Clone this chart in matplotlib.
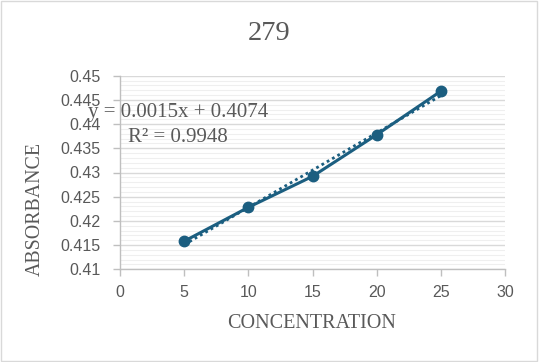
import matplotlib
matplotlib.use("Agg")
import matplotlib.pyplot as plt
import numpy as np
from matplotlib.patches import Rectangle
from matplotlib.ticker import MultipleLocator

concentration = [5, 10, 15, 20, 25]
absorbance = [0.4158, 0.4228, 0.4292, 0.4378, 0.4468]
title = "279"
x_label = "CONCENTRATION"
y_label = "ABSORBANCE"
eq_text = "y = 0.0015x + 0.4074"
r2_text = "R² = 0.9948"

color = "#1b5e80"
W, H = 539, 362
fig = plt.figure(figsize=(W / 100, H / 100), dpi=100)
fig.patches.append(Rectangle((0.002, 0.003), 0.995, 0.993, transform=fig.transFigure,
                             fill=False, edgecolor="#d9d9d9", linewidth=1.0))
ax = fig.add_axes([120 / W, 1 - 269.3 / H, 385 / W, 193.6 / H])

# fit trendline
x = np.array(concentration)
y = np.array(absorbance)
m, b = np.polyfit(x, y, 1)
xs = np.array([x.min(), x.max()])
ax.plot(xs, m * xs + b, linestyle=(0, (1, 1.2)), color=color, linewidth=2.0, zorder=3)
ax.plot(concentration, absorbance, color=color, linewidth=2.2, marker="o",
        markersize=7.5, zorder=4)

ax.set_xlim(0, 30)
ax.set_ylim(0.41, 0.45)
ax.xaxis.set_major_locator(MultipleLocator(5))
ax.yaxis.set_major_locator(MultipleLocator(0.005))
ax.yaxis.set_minor_locator(MultipleLocator(0.001))
ax.set_yticks(np.round(np.arange(0.41, 0.4501, 0.005), 3))
ax.set_yticklabels([f"{v:g}" for v in ax.get_yticks()])
ax.grid(axis="y", which="major", color="#d9d9d9", linewidth=1.0)
ax.grid(axis="y", which="minor", color="#efefef", linewidth=0.8)
ax.set_axisbelow(True)
for s in ["top", "right"]:
    ax.spines[s].set_visible(False)
for s in ["left", "bottom"]:
    ax.spines[s].set_color("#bfbfbf")
    ax.spines[s].set_linewidth(1.0)
ax.tick_params(axis="both", which="major", colors="#bfbfbf", length=5, width=1.0,
               labelcolor="#595959", labelsize=11.5)
ax.tick_params(axis="y", which="major", pad=9)
ax.tick_params(axis="x", which="major", pad=6)
ax.tick_params(axis="y", which="minor", length=0)
for lab in ax.get_xticklabels() + ax.get_yticklabels():
    lab.set_family("Liberation Sans")

fig.text(312 / W, 1 - 323 / H, x_label, ha="center", va="center", family="Liberation Serif",
         fontsize=14.5, color="#595959")
fig.text(35 / W, 1 - 209 / H, y_label, ha="center", va="center", rotation=90,
         family="Liberation Serif", fontsize=14.3, color="#595959")
fig.text(269 / W, 1 - 34 / H, title, ha="center", va="center", family="Liberation Serif",
         fontsize=20.5, color="#595959")

fig.text(88 / W, 1 - 113 / H, eq_text, ha="left", va="center", family="Liberation Serif",
         fontsize=15, color="#595959")
fig.text(128 / W, 1 - 137 / H, r2_text, ha="left", va="center", family="Liberation Serif",
         fontsize=15, color="#595959")

fig.savefig("out.png", dpi=100)
